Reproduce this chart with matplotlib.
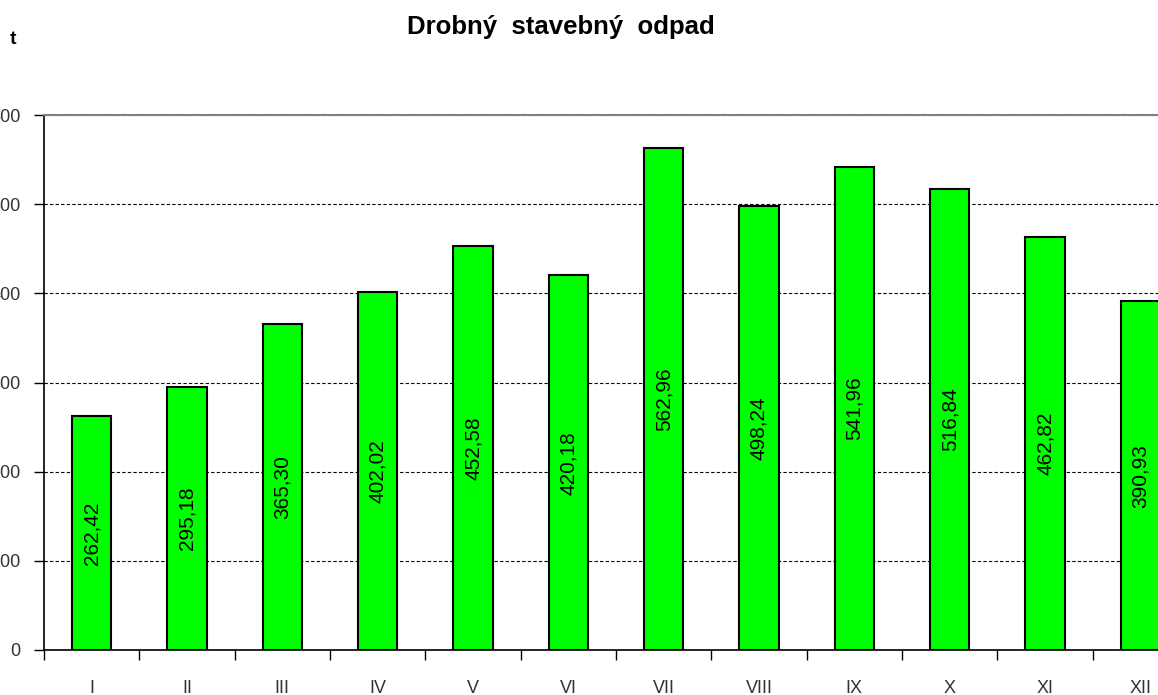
import matplotlib.pyplot as plt
import numpy as np

months = ["I", "II", "III", "IV", "V", "VI", "VII", "VIII", "IX", "X", "XI", "XII"]
tons = [262.42, 295.18, 365.30, 402.02, 452.58, 420.18, 562.96, 498.24, 541.96, 516.84, 462.82, 390.93]
y_ticks = [0, 100, 200, 300, 400, 500, 600]

plt.rcParams["font.family"] = ["Liberation Sans", "DejaVu Sans"]

W, H = 1158, 695
fig = plt.figure(figsize=(W / 100, H / 100), dpi=100)
# axes run past the right edge, like the cropped original
ax = fig.add_axes([44 / W, (H - 650) / H, (1188 - 44) / W, (650 - 115) / H])

x = np.arange(len(months))
ax.bar(x, tons, width=0.41, color="#00ff00", edgecolor="black", linewidth=1.5, zorder=3)

for xi, v in zip(x, tons):
    ax.text(xi, v / 2, f"{v:.2f}".replace(".", ","), rotation=90, ha="center", va="center",
            fontsize=15, color="black", zorder=4)

ax.set_xlim(-0.5, len(months) - 0.5)
ax.set_ylim(0, 600)
ax.set_yticks(y_ticks)
ax.set_yticklabels([str(t) for t in y_ticks])
ax.yaxis.grid(True, color="black", linestyle=(0, (3, 2)), linewidth=0.8, zorder=0)

ax.set_xticks(x)
ax.set_xticklabels(months)
ax.set_xticks(np.arange(len(months) + 1) - 0.5, minor=True)
ax.tick_params(axis="x", which="major", length=0, pad=21.5, labelsize=13, labelcolor="#333333")
ax.tick_params(axis="x", which="minor", length=7, width=1, color="black", direction="out")
ax.tick_params(axis="y", length=7, width=1, pad=10, labelsize=13, labelcolor="#333333")

ax.spines["top"].set_color("#808080")
ax.spines["top"].set_linewidth(1.5)
ax.spines["right"].set_visible(False)
ax.spines["left"].set_linewidth(1.2)
ax.spines["bottom"].set_linewidth(1.2)

fig.text(561 / W, 1 - 27 / H, "Drobný  stavebný  odpad", ha="center", va="center",
         fontsize=18.5, fontweight="bold")
fig.text(13 / W, 1 - 40 / H, "t", ha="center", va="center", fontsize=14, fontweight="bold")

fig.savefig("out.png", dpi=100)
